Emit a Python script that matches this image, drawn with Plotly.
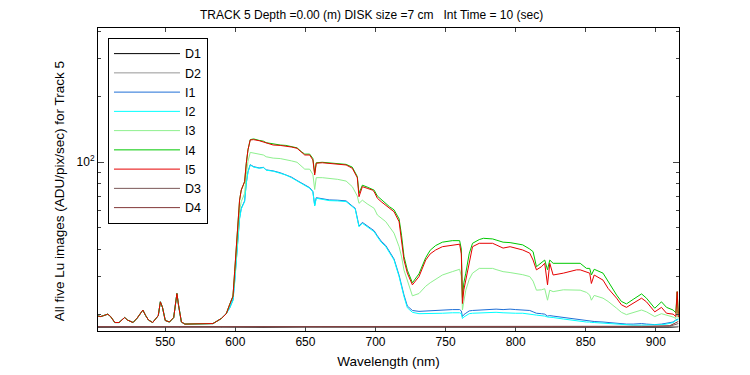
import plotly.graph_objects as go

wavelength = [502, 504, 506, 509, 511, 514, 517, 521, 523, 527, 530, 532, 534, 536, 538, 541, 545, 546.5, 548, 550,
              553, 556, 558.3, 559.5, 561.5, 564, 570, 576, 584, 590, 593.5, 596, 598.3, 599.5, 600.7, 601.8, 603, 604.2, 606.6, 607.8,
              609, 610.6, 613, 617, 620, 622, 627, 632, 636, 640, 644, 647, 649.5, 653, 655.3, 656.6, 657.7, 662, 667, 673,
              679, 683.4, 685.5, 687, 688.2, 690.6, 694, 697.7, 699, 701.3, 704, 707.3, 710, 713.2, 716.8, 718.6, 720.3, 722.7, 726.3, 731,
              735.8, 739, 742.9, 747.7, 754.8, 760, 761.2, 762, 763, 764.4, 766.8, 769.2, 774, 777, 783.5, 786, 791, 796,
              800, 805, 810, 812.4, 814.8, 818.4, 820.7, 822.7, 824.3, 826.7, 834, 843.4, 846, 850.5, 852.8, 854, 856, 862.3,
              865.9, 872, 875.4, 879, 883.8, 889.8, 893.3, 896.9, 899.2, 904, 907.6, 912.3, 914.2, 915.2, 916]

blue_low = [19.7, 19.6, 19.8, 20.1, 19.6, 18.4, 18.4, 19.4, 18.9, 18.4, 19.3, 20.2, 21.0, 19.8, 18.9, 18.4, 19.8, 22.9, 21.6, 18.8,
            18.5, 19.4, 25.0, 22.0, 18.5, 18.1, 18.1, 18.1, 18.2, 19.2, 20.2, 22.3, 24.3]

I5 = blue_low[:] + [31.5, 41, 55, 67, 74.6, 81.5, 99,
      114, 126.6, 127, 125.6, 124, 122, 120, 119.5, 118.8, 117.5, 115.9, 112, 108, 108, 102.5, 87.4, 99, 99.5, 99, 98.5,
      97.2, 93.9, 89, 85, 69.5, 77.3, 76, 74.6, 73.3, 68.4, 66, 63.7, 61.5, 59.3, 53.4, 43.2, 35.6, 31.0, 27.4, 29.9,
      35.6, 38, 39.6, 41, 41.8, 42.1, 38, 22.5, 26, 28.8, 35.6, 41, 42.5, 42.5, 42.5, 41.8, 40.4, 41,
      40.5, 39.6, 38.3, 35.6, 32.1, 33.2, 34.4, 27.4, 34.4, 30.4, 31.0, 32.1, 32.1, 31.5, 31.0, 27.8, 30.4, 28.8,
      26.4, 23.8, 22.2, 21.6, 22.5, 23.8, 22.9, 21.4, 20.6, 21.6, 20.3, 20.1, 19.6, 25.5, 19.5]

I4 = blue_low[:] + [31.5, 41, 55, 67, 74.6, 81.5, 99,
      114, 127, 128, 126, 125, 123, 121, 120, 119.5, 118, 116.5, 112, 109, 109, 104, 89, 99.5, 100, 99.5, 99,
      97.8, 95, 90, 86, 72, 78.5, 77, 75.5, 74.5, 70, 67.5, 65, 62.5, 60.5, 55, 46, 37, 32, 28, 30.8,
      36.5, 39.5, 41.5, 43, 43.7, 43.7, 40, 24, 28, 31, 38, 42.5, 44.2, 44.8, 44.5, 44, 43, 42.8,
      42.3, 41.8, 40, 38.9, 33.2, 34.5, 35.6, 32.1, 35.6, 34.4, 34.4, 34.6, 34.4, 32.6, 32.6, 30.4, 32.3, 31,
      28.3, 24.6, 23, 22.4, 23.5, 24.9, 23.8, 22.2, 21.4, 22.9, 21.6, 21, 20.4, 25.5, 20.2]

I3 = blue_low[:] + [30, 38, 50, 60, 66, 72, 88,
      101, 111, 110, 109, 108, 106, 104.5, 104, 103, 101.5, 100, 96, 93, 93, 88, 75, 85, 85, 84.4, 83.5,
      82, 77.3, 73, 70, 64.8, 67, 64.5, 62, 61.5, 57.3, 55.5, 53.4, 50.5, 47.3, 41, 36.8, 32, 28.8, 24.4, 25,
      27, 28, 29, 30.4, 31.5, 32.3, 30, 21, 23, 25.9, 29, 31, 32.6, 32.6, 32.6, 32.2, 31.5, 31.2,
      30.9, 30.5, 29.9, 28.5, 25.9, 26, 26.3, 23.3, 25.9, 25.5, 26, 26, 25.9, 25.3, 24.6, 23.3, 24.5, 23.8,
      23, 21.4, 20.5, 20.0, 20.5, 21, 20.6, 20, 19.6, 20.2, 19.9, 19.5, 19.2, 21, 19.2]

I2 = blue_low[:-2] + [21.5, 23.2] + [28, 35, 45, 55, 61, 66, 80,
      90, 97.2, 95, 93.9, 94.5, 92, 91, 89, 87.4, 85, 82, 80, 78.7, 76, 73, 63, 68.4, 67.5, 66.7, 66.5,
      66, 62.6, 61, 55, 50.6, 52.5, 50.5, 48.5, 48, 45.5, 43, 41, 38.5, 35.6, 29.9, 26.5, 24.2, 21.5, 20.5, 20.2,
      20.2, 20.3, 20.3, 20.3, 20.4, 20.4, 20.2, 19.2, 19.5, 19.8, 20.2, 20.3, 20.4, 20.4, 20.6, 20.5, 20.4, 20.3,
      20.3, 20.3, 20.2, 20.0, 19.9, 19.8, 19.7, 19.5, 19.5, 19.4, 19.1, 18.7, 18.6, 18.5, 18.5, 18.4, 18.4, 18.3,
      18.2, 18.1, 18.0, 17.9, 17.9, 17.9, 17.9, 17.9, 17.9, 18.0, 18.1, 18.4, 18.8, 19.0, 19.0]

I1 = blue_low[:-2] + [21.5, 23.4] + [28.5, 35.5, 45.5, 55.5, 61.5, 66.5, 80.5,
      90.5, 97.5, 95.5, 94.2, 94.8, 92.3, 91.3, 89.5, 87.8, 85.5, 82.5, 80.5, 79, 76.5, 73.5, 63.5, 68.8, 68, 67.2, 67,
      66.5, 63, 61.5, 55.5, 51, 53, 51, 49, 48.5, 46, 43.5, 41.5, 39, 36, 30.3, 27, 24.6, 21.9, 20.9, 20.7,
      20.8, 20.9, 20.9, 21.0, 21.1, 21.1, 20.8, 19.6, 20, 20.3, 20.8, 20.9, 21.0, 21.1, 21.2, 21.2, 21.1, 21.2,
      21.1, 21.0, 20.9, 20.6, 20.3, 20.2, 20.1, 19.7, 19.8, 19.7, 19.4, 19.0, 18.9, 18.8, 18.7, 18.6, 18.6, 18.5,
      18.4, 18.3, 18.2, 18.1, 18.1, 18.2, 18.1, 18.0, 18.0, 18.1, 18.3, 18.5, 18.9, 19.1, 19.1]

dark_wavelength = [502, 530, 560, 590, 620, 650, 680, 710, 740, 770, 800, 830, 860, 890, 910, 916]
D1 = [17.5, 17.5, 17.4, 17.5, 17.5, 17.4, 17.5, 17.5, 17.4, 17.5, 17.5, 17.4, 17.5, 17.5, 17.5, 17.6]
D2 = [17.6, 17.5, 17.5, 17.5, 17.6, 17.5, 17.5, 17.6, 17.5, 17.5, 17.6, 17.5, 17.5, 17.6, 17.6, 17.7]
D3 = [17.6, 17.6, 17.6, 17.6, 17.6, 17.6, 17.6, 17.6, 17.6, 17.6, 17.6, 17.6, 17.6, 17.6, 17.7, 18.2]
D4 = [17.6, 17.6, 17.6, 17.6, 17.6, 17.6, 17.6, 17.6, 17.6, 17.6, 17.6, 17.6, 17.6, 17.6, 17.8, 18.6]

x_ticks = [550, 600, 650, 700, 750, 800, 850, 900]
y_major = [100]
y_major_text = ["10<sup>2</sup>"]
y_minor = [20, 30, 40, 50, 60, 70, 80, 90, 200, 300, 400]

series = [
    ("D1", dark_wavelength, D1, "#000000"),
    ("D2", dark_wavelength, D2, "#969696"),
    ("I1", wavelength, I1, "#1f6fd6"),
    ("I2", wavelength, I2, "#00ffff"),
    ("I3", wavelength, I3, "#8ef08e"),
    ("I4", wavelength, I4, "#00c800"),
    ("I5", wavelength, I5, "#e60000"),
    ("D3", dark_wavelength, D3, "#7a5858"),
    ("D4", dark_wavelength, D4, "#823838"),
]

fig = go.Figure()
for name, xs, ys, col in series:
    fig.add_trace(go.Scatter(x=xs, y=ys, name=name, mode="lines", legendgroup=name,
                             line=dict(color=col, width=1)))

font_family = "Liberation Sans, Arial, sans-serif"
fig.update_layout(
    width=742, height=367,
    margin=dict(l=90, r=71, t=20, b=44, autoexpand=False),
    paper_bgcolor="white", plot_bgcolor="white",
    font=dict(family=font_family, size=12, color="black"),
    title=dict(text="TRACK 5 Depth =0.00 (m) DISK size =7 cm \u00a0 Int Time = 10 (sec)",
               x=0.49, xref="container", xanchor="center", y=0.982, yref="container", yanchor="middle",
               font=dict(size=12, family=font_family)),
    showlegend=True,
    legend=dict(x=0.0172, y=0.967, xanchor="left", yanchor="top", bordercolor="black", borderwidth=1,
                bgcolor="white", font=dict(size=12.5, family=font_family), tracegroupgap=0.7,
                itemwidth=66, traceorder="normal"),
    xaxis=dict(range=[502, 916.5], tickvals=x_ticks, ticks="inside", ticklen=4, showgrid=False,
               zeroline=False, showline=True, linecolor="black", linewidth=1, mirror="ticks",
               automargin=False,
               tickfont=dict(size=12), title=dict(text="Wavelength (nm)", font=dict(size=13.5), standoff=8)),
    yaxis=dict(type="log", range=[1.226, 2.616], tickvals=y_major, ticktext=y_major_text, ticks="inside",
               ticklen=6, showgrid=False, zeroline=False, showline=True, linecolor="black", linewidth=1,
               mirror="ticks", tickfont=dict(size=12), automargin=False,
               minor=dict(tickvals=y_minor, ticks="inside", ticklen=3, showgrid=False)),
    annotations=[dict(text="All five Lu images (ADU/pix/sec) for Track 5", textangle=-90,
                      xref="paper", yref="paper", x=-0.066, y=0.46, xanchor="center", yanchor="middle",
                      showarrow=False, font=dict(size=13.5, family=font_family))],
)

fig.write_html("out.html")
